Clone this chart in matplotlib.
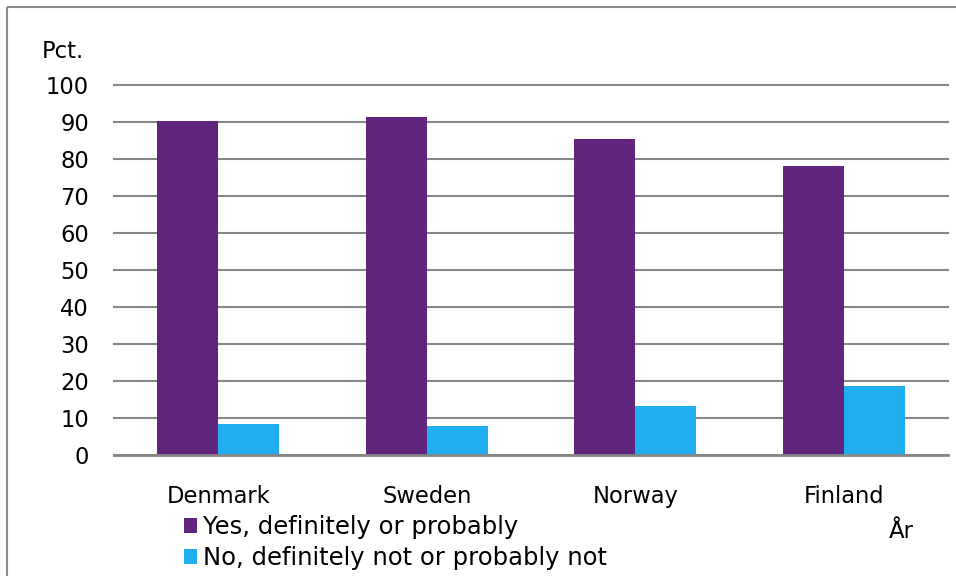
import matplotlib.pyplot as plt
from matplotlib.lines import Line2D
import numpy as np

COUNTRIES = ["Denmark", "Sweden", "Norway", "Finland"]
YES_VALUES = [90.3, 91.3, 85.4, 78.2]
NO_VALUES = [8.3, 7.7, 13.0, 18.6]
SERIES_LABELS = ["Yes, definitely or probably", "No, definitely not or probably not"]
Y_TICKS = [0, 10, 20, 30, 40, 50, 60, 70, 80, 90, 100]

PURPLE = "#61257D"
BLUE = "#21ADEE"
GRID = "#878787"
FONT_SIZE = 16.3

plt.rcParams["font.family"] = ["DejaVu Sans"]

fig = plt.figure(figsize=(9.56, 5.76), dpi=100)
ax = fig.add_axes([114 / 956, 1 - 454.5 / 576, 834 / 956, 369.5 / 576])

x = np.arange(len(COUNTRIES))
width = 0.292
ax.bar(x - width / 2, YES_VALUES, width, color=PURPLE, label=SERIES_LABELS[0], zorder=3)
ax.bar(x + width / 2, NO_VALUES, width, color=BLUE, label=SERIES_LABELS[1], zorder=3)

ax.set_xlim(-0.5, len(COUNTRIES) - 0.5)
ax.set_ylim(0, 100)
ax.set_yticks(Y_TICKS)
ax.set_xticks(x)
ax.set_xticklabels(COUNTRIES)
ax.tick_params(axis="both", length=0, labelsize=FONT_SIZE)
ax.tick_params(axis="y", pad=18)
ax.tick_params(axis="x", pad=22)
ax.yaxis.grid(True, color=GRID, linewidth=1.5, zorder=0)
for gl in ax.get_ygridlines():
    gl.set_clip_on(False)
ax.set_axisbelow(True)
for side in ["left", "right", "top"]:
    ax.spines[side].set_visible(False)
ax.spines["bottom"].set_color(GRID)
ax.spines["bottom"].set_linewidth(2)
ax.spines["bottom"].set_zorder(4)

fig.text(42 / 956, 1 - 52 / 576, "Pct.", fontsize=FONT_SIZE, va="center", ha="left")
fig.text(889 / 956, 1 - 532 / 576, "År", fontsize=FONT_SIZE, va="center", ha="left")

leg = fig.legend(loc="upper left", bbox_to_anchor=(184 / 956, 1 - 515 / 576),
                 frameon=False, fontsize=17.5, handlelength=0.55, handleheight=0.55,
                 handletextpad=0.25, labelspacing=0.3, borderpad=0, borderaxespad=0)

# outer frame (only left and top edges fall inside the picture)
fig.add_artist(Line2D([6.5 / 956, 6.5 / 956], [0, 1 - 6.5 / 576], color="#8c8c8c",
                      linewidth=1.5, solid_capstyle="butt"))
fig.add_artist(Line2D([6.5 / 956, 1], [1 - 6.5 / 576, 1 - 6.5 / 576], color="#8c8c8c",
                      linewidth=1.5, solid_capstyle="butt"))

fig.savefig("out.png", dpi=100)
